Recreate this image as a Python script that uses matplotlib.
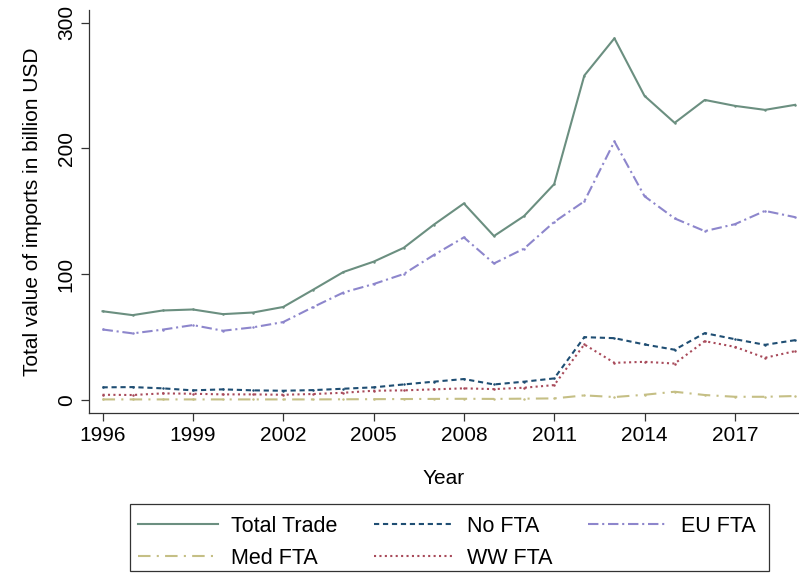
import matplotlib
matplotlib.use("Agg")
import matplotlib.pyplot as plt
from matplotlib.lines import Line2D
from matplotlib.patches import Rectangle

plt.rcParams["font.family"] = ["Liberation Sans", "DejaVu Sans"]

# data (billion USD)
years = list(range(1996, 2020))
total_trade = [70.6, 67.5, 71.2, 72.0, 68.3, 69.6, 74.0, 87.8, 101.8, 110.0, 121.0, 139.4,
               156.3, 130.4, 146.3, 171.7, 258.0, 287.6, 241.8, 220.4, 238.6, 233.9, 230.7, 234.7]
no_fta = [10.1, 10.3, 9.3, 7.7, 8.5, 7.7, 7.4, 7.9, 9.0, 10.1, 12.4, 14.6,
          16.7, 12.4, 14.6, 17.2, 50.0, 49.2, 44.2, 40.0, 53.2, 48.4, 43.9, 47.6]
eu_fta = [56.1, 53.0, 56.0, 59.6, 55.1, 57.8, 62.0, 74.0, 85.5, 92.2, 100.2, 115.3,
          129.3, 108.6, 120.4, 141.6, 158.0, 205.6, 162.0, 144.4, 134.3, 139.8, 150.4, 145.4]
med_fta = [0.5, 0.5, 0.5, 0.5, 0.5, 0.5, 0.5, 0.5, 0.6, 0.7, 0.8, 0.9,
           1.0, 0.9, 1.1, 1.3, 3.7, 2.4, 4.2, 6.6, 4.0, 2.6, 2.6, 3.2]
ww_fta = [4.2, 4.0, 5.3, 5.0, 4.5, 4.5, 4.2, 4.8, 5.8, 7.4, 7.7, 8.5,
          9.3, 8.7, 9.8, 11.9, 44.2, 29.6, 30.4, 29.0, 46.8, 42.3, 33.6, 38.9]

xticks = [1996, 1999, 2002, 2005, 2008, 2011, 2014, 2017]
yticks = [0, 100, 200, 300]

series = [
    ("Total Trade", total_trade, "#6b8f80", "-"),
    ("No FTA", no_fta, "#1f4e73", (0, (2.5, 1.8))),
    ("EU FTA", eu_fta, "#8d86cc", (0, (5, 1.8, 1, 1.8))),
    ("Med FTA", med_fta, "#c5bf85", (0, (6, 3, 1, 3))),
    ("WW FTA", ww_fta, "#a84a5a", (0, (1, 1.6))),
]

FS = 15

fig = plt.figure(figsize=(7.99, 5.74), dpi=100)
ax = fig.add_axes([89 / 799, 161 / 574, 710 / 799, 403 / 574])

handles = []
for name, vals, col, ls in series:
    ax.plot(years, vals, color=col, linestyle=ls, linewidth=1.5,
            marker="o", markersize=1.8, markeredgewidth=0)
    handles.append(Line2D([0], [0], color=col, linestyle=ls, linewidth=1.5))

ax.set_xlim(1995.55, 2019.13)
ax.set_ylim(-10.3, 310.1)
ax.set_xticks(xticks)
ax.set_yticks(yticks)
ax.tick_params(labelsize=FS, length=6, width=0.9, direction="out", color="#333333")
ax.tick_params(axis="y", labelrotation=90)
for lab in ax.get_yticklabels():
    lab.set_va("center")
ax.spines["top"].set_visible(False)
ax.spines["right"].set_visible(False)
for s in ("left", "bottom"):
    ax.spines[s].set_linewidth(0.9)
    ax.spines[s].set_color("#333333")

ax.set_xlabel("Year", fontsize=FS, labelpad=17)
ax.set_ylabel("Total value of imports in billion USD", fontsize=FS, labelpad=11)

# legend: 3 columns, frame drawn separately to match the wide box
order = [0, 3, 1, 4, 2]
leg = fig.legend([handles[i] for i in order], [series[i][0] for i in order],
                 ncol=3, loc="upper left", bbox_to_anchor=(138 / 799, 1 - 516 / 574),
                 fontsize=15.5, frameon=False, borderpad=0, borderaxespad=0,
                 handlelength=3.7, handletextpad=0.62, columnspacing=1.68,
                 labelspacing=0.5)
fig.add_artist(Rectangle((129.5 / 799, 3 / 574), (769 - 129.5) / 799, (571 - 504) / 574,
                         transform=fig.transFigure, fill=False, edgecolor="#333333",
                         linewidth=0.9))

fig.savefig("out.png", dpi=100)
